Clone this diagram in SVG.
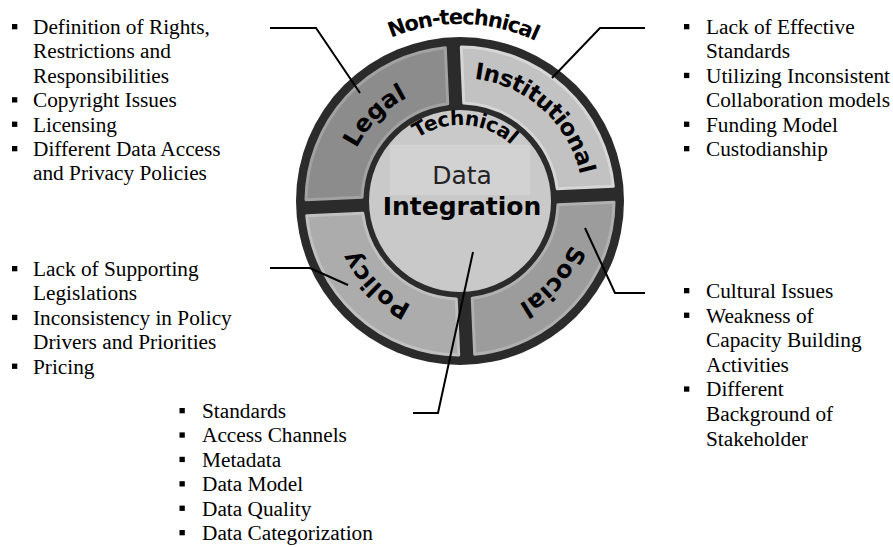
<svg xmlns="http://www.w3.org/2000/svg" xmlns:xlink="http://www.w3.org/1999/xlink" width="893" height="547" viewBox="0 0 893 547">
<style>
.t{font-family:"Liberation Serif","Times New Roman",serif;font-size:21.3px;fill:#000}
.b{fill:#000}
.lbl{font-family:"DejaVu Sans",sans-serif;font-weight:bold;font-size:24px;fill:#000}
.conn{fill:none;stroke:#000;stroke-width:2}
.seg{stroke-width:3;stroke-linejoin:round}
</style>
<defs>
<path id="pLegal" d="M344.44 190.89 A116 116 0 0 1 449.89 85.44"/>
<path id="pInst" d="M442.88 79.20 A123 123 0 0 1 582.93 205.29"/>
<path id="pSocial" d="M578.98 203.08 A119 119 0 0 1 478.62 318.54"/>
<path id="pPolicy" d="M449.98 315.56 A115 115 0 0 1 345.44 211.02"/>
<path id="pNon" d="M337.04 73.68 A177 177 0 0 1 587.32 78.04"/>
<path id="pTech" d="M397.00 158.50 A76 76 0 0 1 528.31 167.68"/>
</defs>
<rect width="893" height="547" fill="#fff"/>

<g id="wheel">
<circle cx="460" cy="201" r="164" fill="#2b2b2b"/>
</g>
<g id="seg-institutional">
<path class="seg" d="M461.29 47.01 A154 154 0 0 1 613.30 186.29 L557.23 188.75 A98 98 0 0 0 463.73 103.07 Z" fill="#c2c2c2" stroke="#d6d6d6"/>
<text class="lbl" style="font-size:23px;letter-spacing:-0.6px"><textPath xlink:href="#pInst" href="#pInst" startOffset="50%" text-anchor="middle">Institutional</textPath></text>
</g>
<g id="seg-social">
<path class="seg" d="M613.99 202.29 A154 154 0 0 1 474.71 354.30 L472.25 298.23 A98 98 0 0 0 557.93 204.73 Z" fill="#9c9c9c" stroke="#b0b0b0"/>
<text class="lbl"><textPath xlink:href="#pSocial" href="#pSocial" startOffset="50%" text-anchor="middle">Social</textPath></text>
</g>
<g id="seg-policy">
<path class="seg" d="M458.71 354.99 A154 154 0 0 1 306.70 215.71 L362.77 213.25 A98 98 0 0 0 456.27 298.93 Z" fill="#acacac" stroke="#c0c0c0"/>
<text class="lbl"><textPath xlink:href="#pPolicy" href="#pPolicy" startOffset="50%" text-anchor="middle">Policy</textPath></text>
</g>
<g id="seg-legal">
<path class="seg" d="M306.01 199.71 A154 154 0 0 1 445.29 47.70 L447.75 103.77 A98 98 0 0 0 362.07 197.27 Z" fill="#8c8c8c" stroke="#a2a2a2"/>
<text class="lbl"><textPath xlink:href="#pLegal" href="#pLegal" startOffset="50%" text-anchor="middle">Legal</textPath></text>
</g>
<g id="non-technical">
<text class="lbl" style="font-size:21px;letter-spacing:-1.2px"><textPath xlink:href="#pNon" href="#pNon" startOffset="50%" text-anchor="middle">Non-technical</textPath></text>
</g>
<g id="center">
<circle cx="460" cy="201" r="91" fill="#c9c9c9"/>
<rect x="390" y="145" width="140" height="50" fill="#d2d2d2"/>
<text class="lbl" style="font-size:20px;letter-spacing:-0.3px"><textPath xlink:href="#pTech" href="#pTech" startOffset="50%" text-anchor="middle">Technical</textPath></text>
<text x="462" y="184" text-anchor="middle" style="font-family:'DejaVu Sans',sans-serif;font-size:25px;fill:#222">Data</text>
<text x="462" y="215" text-anchor="middle" style="font-family:'DejaVu Sans',sans-serif;font-weight:bold;font-size:25px;fill:#000">Integration</text>
</g>

<g id="connectors">
<polyline class="conn" points="270,28 316,28 360,93"/>
<polyline class="conn" points="552,78 600,28 645,28"/>
<polyline class="conn" points="270,268 310,268 348,285"/>
<polyline class="conn" points="585,228 615,293 645,293"/>
<polyline class="conn" points="473,252 438,413 413,413"/>
</g>

<g id="legal-list">
<rect class="b" x="12" y="24" width="5.3" height="5.3"/>
<text class="t" x="33" y="34">Definition of Rights,</text>
<text class="t" x="33" y="58.4">Restrictions and</text>
<text class="t" x="33" y="82.8">Responsibilities</text>
<rect class="b" x="12" y="97.2" width="5.3" height="5.3"/>
<text class="t" x="33" y="107.2">Copyright Issues</text>
<rect class="b" x="12" y="121.6" width="5.3" height="5.3"/>
<text class="t" x="33" y="131.6">Licensing</text>
<rect class="b" x="12" y="146" width="5.3" height="5.3"/>
<text class="t" x="33" y="156">Different Data Access</text>
<text class="t" x="33" y="180.4">and Privacy Policies</text>
</g>

<g id="institutional-list">
<rect class="b" x="684" y="24" width="5.3" height="5.3"/>
<text class="t" x="706" y="34">Lack of Effective</text>
<text class="t" x="706" y="58.4">Standards</text>
<rect class="b" x="684" y="72.8" width="5.3" height="5.3"/>
<text class="t" x="706" y="82.8">Utilizing Inconsistent</text>
<text class="t" x="706" y="107.2">Collaboration models</text>
<rect class="b" x="684" y="121.6" width="5.3" height="5.3"/>
<text class="t" x="706" y="131.6">Funding Model</text>
<rect class="b" x="684" y="146" width="5.3" height="5.3"/>
<text class="t" x="706" y="156">Custodianship</text>
</g>

<g id="policy-list">
<rect class="b" x="12" y="266" width="5.3" height="5.3"/>
<text class="t" x="33" y="276">Lack of Supporting</text>
<text class="t" x="33" y="300.4">Legislations</text>
<rect class="b" x="12" y="314.8" width="5.3" height="5.3"/>
<text class="t" x="33" y="324.8">Inconsistency in Policy</text>
<text class="t" x="33" y="349.2">Drivers and Priorities</text>
<rect class="b" x="12" y="363.6" width="5.3" height="5.3"/>
<text class="t" x="33" y="373.6">Pricing</text>
</g>

<g id="social-list">
<rect class="b" x="684" y="288" width="5.3" height="5.3"/>
<text class="t" x="706" y="298">Cultural Issues</text>
<rect class="b" x="684" y="312.6" width="5.3" height="5.3"/>
<text class="t" x="706" y="322.6">Weakness of</text>
<text class="t" x="706" y="347.2">Capacity Building</text>
<text class="t" x="706" y="371.8">Activities</text>
<rect class="b" x="684" y="386.4" width="5.3" height="5.3"/>
<text class="t" x="706" y="396.4">Different</text>
<text class="t" x="706" y="421">Background of</text>
<text class="t" x="706" y="445.6">Stakeholder</text>
</g>

<g id="technical-list">
<rect class="b" x="179.5" y="408" width="5.3" height="5.3"/>
<text class="t" x="202" y="418">Standards</text>
<rect class="b" x="179.5" y="432.4" width="5.3" height="5.3"/>
<text class="t" x="202" y="442.4">Access Channels</text>
<rect class="b" x="179.5" y="456.8" width="5.3" height="5.3"/>
<text class="t" x="202" y="466.8">Metadata</text>
<rect class="b" x="179.5" y="481.2" width="5.3" height="5.3"/>
<text class="t" x="202" y="491.2">Data Model</text>
<rect class="b" x="179.5" y="505.6" width="5.3" height="5.3"/>
<text class="t" x="202" y="515.6">Data Quality</text>
<rect class="b" x="179.5" y="530" width="5.3" height="5.3"/>
<text class="t" x="202" y="540">Data Categorization</text>
</g>
</svg>
